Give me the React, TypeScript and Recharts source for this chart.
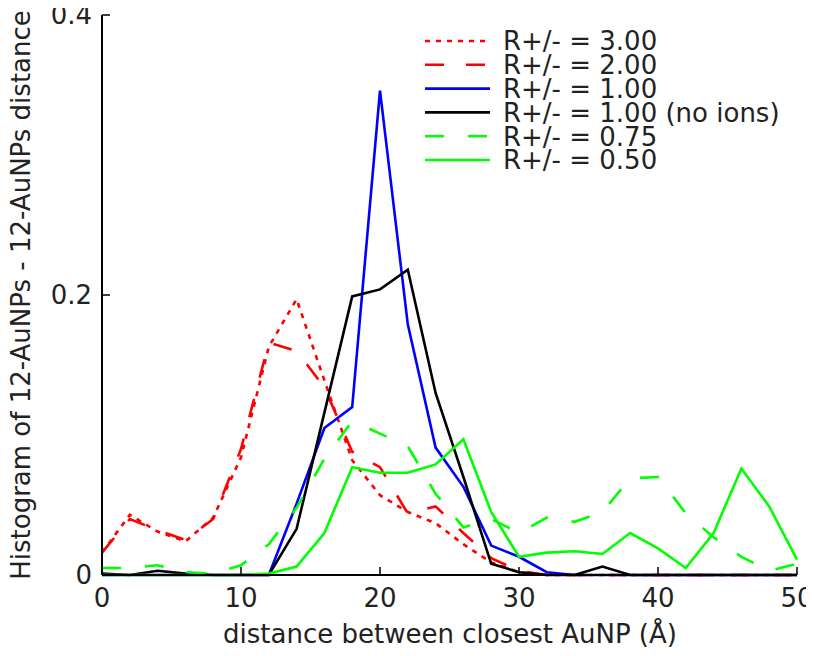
import React from "react";
import { LineChart, Line, XAxis, YAxis } from "recharts";

// histogram bins (Å)
const distance = [0, 2, 4, 6, 8, 10, 12, 14, 16, 18, 20, 22, 24, 26, 28, 30, 32, 34, 36, 38, 40, 42, 44, 46, 48, 50];

const r300 = [0.016, 0.043, 0.031, 0.024, 0.041, 0.084, 0.163, 0.197, 0.139, 0.082, 0.057, 0.045, 0.037, 0.022, 0.009, 0.002, 0, 0, 0, 0, 0, 0, 0, 0, 0, 0];
const r200 = [0.016, 0.04, 0.032, 0.025, 0.04, 0.09, 0.166, 0.16, 0.134, 0.088, 0.077, 0.044, 0.049, 0.03, 0.012, 0.003, 0, 0, 0, 0, 0, 0, 0, 0, 0, 0];
const r100 = [0, 0, 0, 0, 0, 0, 0, 0.051, 0.105, 0.12, 0.346, 0.179, 0.091, 0.063, 0.021, 0.013, 0.002, 0, 0, 0, 0, 0, 0, 0, 0, 0];
const r100NoIons = [0.001, 0, 0.003, 0.001, 0, 0, 0, 0.033, 0.116, 0.199, 0.204, 0.218, 0.13, 0.07, 0.008, 0.002, 0, 0, 0.006, 0, 0, 0, 0, 0, 0, 0];
const r075 = [0.005, 0.005, 0.007, 0.002, 0.001, 0.007, 0.022, 0.048, 0.083, 0.11, 0.101, 0.092, 0.058, 0.034, 0.04, 0.03, 0.041, 0.038, 0.045, 0.069, 0.07, 0.044, 0.027, 0.013, 0.003, 0.008];
const r050 = [0, 0, 0, 0, 0, 0, 0.001, 0.006, 0.03, 0.077, 0.073, 0.073, 0.079, 0.097, 0.045, 0.013, 0.016, 0.017, 0.015, 0.03, 0.019, 0.005, 0.03, 0.076, 0.049, 0.011];

const xTicks = [0, 10, 20, 30, 40, 50];
const yTicks = [0, 0.2, 0.4];

const series = [
  { key: "r300", values: r300, name: "R+/- = 3.00", color: "#ff0000", dash: "5 6" },
  { key: "r200", values: r200, name: "R+/- = 2.00", color: "#ff0000", dash: "19 22" },
  { key: "r100", values: r100, name: "R+/- = 1.00", color: "#0000ff", dash: undefined },
  { key: "r100NoIons", values: r100NoIons, name: "R+/- = 1.00 (no ions)", color: "#000000", dash: undefined },
  { key: "r075", values: r075, name: "R+/- = 0.75", color: "#00ff00", dash: "19 24" },
  { key: "r050", values: r050, name: "R+/- = 0.50", color: "#00ff00", dash: undefined },
];

const data = distance.map((d, i) => {
  const row: Record<string, number> = { d };
  series.forEach((s) => (row[s.key] = s.values[i]));
  return row;
});

const FONT = "'DejaVu Sans', sans-serif";
const W = 814;
const H = 656;
const TICK = 8;

// ticks drawn inward, labels only on bottom/left
const makeTick = (side: string) => (props: any) => {
  const { x, y, payload } = props;
  const v = payload.value;
  if (side === "bottom") {
    return (
      <g>
        <line x1={x} x2={x} y1={y} y2={y - TICK} stroke="#000" strokeWidth={1.5} />
        <text x={x} y={y + 32} textAnchor="middle" fontSize={26} fontFamily={FONT} fill="#222">
          {v}
        </text>
      </g>
    );
  }
  if (side === "top") {
    return <line x1={x} x2={x} y1={y} y2={y + TICK} stroke="#000" strokeWidth={1.5} />;
  }
  if (side === "left") {
    return (
      <g>
        <line x1={x} x2={x + TICK} y1={y} y2={y} stroke="#000" strokeWidth={1.5} />
        <text x={x - 10} y={y} dy="0.36em" textAnchor="end" fontSize={26} fontFamily={FONT} fill="#222">
          {v}
        </text>
      </g>
    );
  }
  return <line x1={x} x2={x - TICK} y1={y} y2={y} stroke="#000" strokeWidth={1.5} />;
};

const axisLine = { stroke: "#000", strokeWidth: 2 };

const App: React.FC = () => {
  return (
    <div style={{ position: "relative", width: W, height: H, margin: -8 }}>
      <LineChart width={W} height={H} data={data} margin={{ top: 15, right: 17, left: 0, bottom: 0 }}>
        <XAxis
          xAxisId="bottom"
          dataKey="d"
          type="number"
          domain={[0, 50]}
          ticks={xTicks}
          interval={0}
          height={81}
          tickSize={0}
          tickMargin={0}
          axisLine={axisLine}
          tick={makeTick("bottom")}
        />
        <XAxis
          xAxisId="top"
          orientation="top"
          dataKey="d"
          type="number"
          domain={[0, 50]}
          ticks={xTicks}
          interval={0}
          height={0}
          tickSize={0}
          tickMargin={0}
          axisLine={axisLine}
          tick={makeTick("top")}
        />
        <YAxis
          yAxisId="left"
          type="number"
          domain={[0, 0.4]}
          ticks={yTicks}
          interval={0}
          width={102}
          tickSize={0}
          tickMargin={0}
          axisLine={axisLine}
          tick={makeTick("left")}
        />
        <YAxis
          yAxisId="right"
          orientation="right"
          type="number"
          domain={[0, 0.4]}
          ticks={yTicks}
          interval={0}
          width={0}
          tickSize={0}
          tickMargin={0}
          axisLine={axisLine}
          tick={makeTick("right")}
        />
        {series.map((s) => (
          <Line
            key={s.key}
            xAxisId="bottom"
            yAxisId="left"
            type="linear"
            dataKey={s.key}
            name={s.name}
            stroke={s.color}
            strokeWidth={2.6}
            strokeDasharray={s.dash}
            dot={false}
            activeDot={false}
            isAnimationActive={false}
          />
        ))}
      </LineChart>
      <svg
        width={W}
        height={H}
        style={{ position: "absolute", left: 0, top: 0, pointerEvents: "none" }}
      >
        <text
          transform="translate(21, 295) rotate(-90)"
          textAnchor="middle"
          dy="0.36em"
          fontSize={26}
          fontFamily={FONT}
          fill="#222"
        >
          Histogram of 12-AuNPs - 12-AuNPs distance
        </text>
        <text x={450} y={634} dy="0.36em" textAnchor="middle" fontSize={26} fontFamily={FONT} fill="#222">
          distance between closest AuNP (Å)
        </text>
        {series.map((s, i) => {
          const cy = 41 + i * 23.8;
          return (
            <g key={s.key}>
              <line
                x1={425}
                x2={490}
                y1={cy}
                y2={cy}
                stroke={s.color}
                strokeWidth={2.6}
                strokeDasharray={s.dash}
              />
              <text x={503} y={cy} dy="0.36em" fontSize={26} fontFamily={FONT} fill="#222">
                {s.name}
              </text>
            </g>
          );
        })}
      </svg>
    </div>
  );
};

export default App;
